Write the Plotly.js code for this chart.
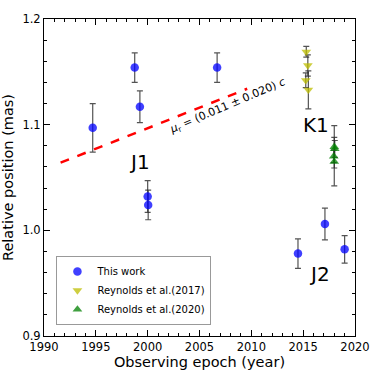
<!DOCTYPE html>
<html>
<head>
<meta charset="utf-8">
<script src="https://cdn.plot.ly/plotly-3.0.1.min.js"></script>
<style>
  html, body { margin: 0; padding: 0; background: #fff; }
  #graph { width: 374px; height: 374px; }
</style>
</head>
<body>
<div id="graph"></div>
<script>
// This work (blue circles)
var workYear = [1994.7, 1998.75, 1999.25, 2000.0, 2000.05, 2006.7, 2014.5, 2017.1, 2019.0];
var workPos = [1.097, 1.154, 1.117, 1.032, 1.024, 1.154, 0.978, 1.006, 0.982];
var workErr = [0.023, 0.014, 0.015, 0.015, 0.014, 0.014, 0.014, 0.015, 0.013];

// Reynolds et al. (2017), K1
var r17Year = [2015.3, 2015.45, 2015.25, 2015.5];
var r17Pos = [1.169, 1.156, 1.142, 1.133];
var r17Err = [0.005, 0.010, 0.007, 0.018];

// Reynolds et al. (2020), K1
var r20Year = [2018.0, 2018.05, 2017.95, 2018.0];
var r20Pos = [1.079, 1.077, 1.070, 1.065];
var r20Err = [0.020, 0.008, 0.006, 0.023];

// fitted motion line
var fitYear = [1991.6, 2009.6];
var fitPos = [1.064, 1.134];

function drawGraph() {
    var font = 'DejaVu Sans, sans-serif';

    function errTrace(x, y, e, name, sym, col) {
        return {
            x: x, y: y, name: name,
            type: 'scatter', mode: 'markers',
            marker: {symbol: sym, size: 8.5, color: col},
            error_y: {type: 'data', array: e, visible: true,
                      color: 'rgba(40,40,40,0.8)', thickness: 1.2, width: 3}
        };
    }

    var fit = {
        x: fitYear, y: fitPos, type: 'scatter', mode: 'lines',
        line: {color: 'red', width: 2.5, dash: 'dash'},
        showlegend: false, hoverinfo: 'skip'
    };

    var data = [
        fit,
        errTrace(workYear, workPos, workErr, 'This work', 'circle', 'rgba(0,0,255,0.75)'),
        errTrace(r17Year, r17Pos, r17Err, 'Reynolds et al.(2017)', 'triangle-down', 'rgba(190,190,0,0.75)'),
        errTrace(r20Year, r20Pos, r20Err, 'Reynolds et al.(2020)', 'triangle-up', 'rgba(0,128,0,0.75)')
    ];

    var axisBase = {
        showgrid: false, zeroline: false,
        showline: true, linecolor: 'black', linewidth: 1, mirror: 'allticks',
        ticks: 'inside', ticklen: 6, tickcolor: 'black',
        tickfont: {family: font, size: 11.5, color: 'black'}
    };

    var layout = {
        width: 374, height: 374,
        margin: {l: 44, r: 19, t: 19, b: 38},
        paper_bgcolor: 'white', plot_bgcolor: 'white',
        font: {family: font, color: 'black'},
        xaxis: Object.assign({}, axisBase, {
            range: [1990, 2020], dtick: 5, tick0: 1990,
            minor: {ticks: 'inside', dtick: 1, ticklen: 3, tickcolor: 'black'},
            title: {text: 'Observing epoch (year)', font: {family: font, size: 14.5}, standoff: 3}
        }),
        yaxis: Object.assign({}, axisBase, {
            range: [0.9, 1.2], dtick: 0.1, tick0: 0.9, tickformat: '.1f',
            minor: {ticks: 'inside', dtick: 0.02, ticklen: 3, tickcolor: 'black'},
            title: {text: 'Relative position (mas)', font: {family: font, size: 14.5}, standoff: 5}
        }),
        legend: {
            x: 0.04, y: 0.035, xanchor: 'left', yanchor: 'bottom',
            bgcolor: 'white', bordercolor: '#999', borderwidth: 1,
            font: {family: font, size: 10}, tracegroupgap: 0
        },
        annotations: [
            {x: 1999.2, y: 1.065, text: 'J1', showarrow: false, font: {family: font, size: 20}},
            {x: 2016.2, y: 1.100, text: 'K1', showarrow: false, font: {family: font, size: 20}},
            {x: 2016.6, y: 0.959, text: 'J2', showarrow: false, font: {family: font, size: 20}},
            {x: 2007.7, y: 1.118, text: '<i>μ</i><sub>r</sub> = (0.011 ± 0.020) <i>c</i>',
             showarrow: false, textangle: -23, font: {family: font, size: 11}}
        ]
    };

    Plotly.newPlot('graph', data, layout, {displayModeBar: false, staticPlot: true});
}

drawGraph();
</script>
</body>
</html>
